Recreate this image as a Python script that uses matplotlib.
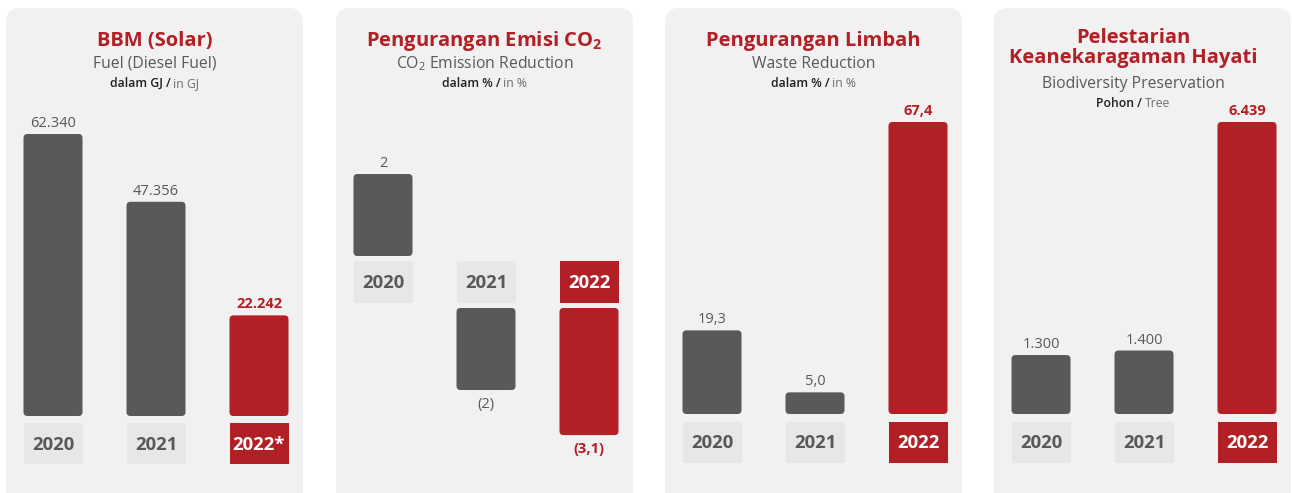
import matplotlib
matplotlib.use('Agg')
import matplotlib.pyplot as plt
from matplotlib.patches import FancyBboxPatch, Rectangle

plt.rcParams['font.family'] = 'Open Sans'
plt.rcParams['mathtext.fontset'] = 'custom'
plt.rcParams['mathtext.rm'] = 'Open Sans'
plt.rcParams['mathtext.bf'] = 'Open Sans:bold'

# data
years = ['2020', '2021', '2022']
fuel_years = ['2020', '2021', '2022*']
fuel_gj = [62340, 47356, 22242]
co2_pct = [2, -2, -3.1]
waste_pct = [19.3, 5.0, 67.4]
trees = [1300, 1400, 6439]

RED = '#b21f24'
GREY = '#58595b'
PANEL = '#f1f1f1'
BOX = '#e6e7e8'
INK = '#231f20'
SOFT = '#6d6e71'

W, H = 1292, 493
fig = plt.figure(figsize=(W / 100, H / 100), dpi=100)
fig.patch.set_facecolor('white')

# pixel-space layer for panels, titles and year boxes
bg = fig.add_axes([0, 0, 1, 1])
bg.set_xlim(0, W)
bg.set_ylim(H, 0)
bg.axis('off')

panel_left = [6, 336, 665, 994]
panel_w = 297
spacing = 103
bar_w = 59

for left in panel_left:
    bg.add_patch(FancyBboxPatch((left, 8), panel_w, 530,
                                boxstyle='round,pad=0,rounding_size=14',
                                fc=PANEL, ec='none'))

renderer = fig.canvas.get_renderer()


def rich_line(xc, y, parts):
    # several differently styled pieces on one centred line
    texts = [bg.text(0, y, s, ha='left', va='baseline', **kw) for s, kw in parts]
    widths = [t.get_window_extent(renderer).width for t in texts]
    x = xc - sum(widths) / 2
    for t, w in zip(texts, widths):
        t.set_x(x)
        x += w


def header(xc, title_lines, title_y, sub, sub_y, unit_bold, unit_soft, unit_y):
    for line, y in zip(title_lines, title_y):
        bg.text(xc, y, line, ha='center', va='baseline', fontsize=14.5,
                fontweight='bold', color=RED)
    bg.text(xc, sub_y, sub, ha='center', va='baseline', fontsize=11.3, color=GREY)
    rich_line(xc, unit_y, [(unit_bold, dict(fontsize=8.8, fontweight='semibold', color=INK)),
                           (unit_soft, dict(fontsize=8.8, color=SOFT))])


def bar_panel(left, values, labels, ylabels, base_px, ppu, box_px, neg_px=None):
    # ppu = pixels per data unit
    c0 = left + 47
    x0 = c0 - spacing / 2
    x1 = c0 + 2.5 * spacing
    ax_top, ax_bot = 90, 492
    ax = fig.add_axes([x0 / W, (H - ax_bot) / H, (x1 - x0) / W, (ax_bot - ax_top) / H])
    ax.set_xlim(-0.5, 2.5)
    ax.set_ylim(-(ax_bot - base_px) / ppu, (base_px - ax_top) / ppu)
    ax.axis('off')
    gap = 0 if neg_px is None else (neg_px - base_px) / ppu
    bottoms = [0 if v >= 0 else -gap for v in values]
    colors = [GREY, GREY, RED]
    bars = ax.bar(range(3), values, width=bar_w / spacing, bottom=bottoms, color=colors)
    for i, (rect, col) in enumerate(zip(bars, colors)):
        x, y, w, h = rect.get_x(), rect.get_y(), rect.get_width(), rect.get_height()
        if h < 0:
            y, h = y + h, -h
        rect.set_visible(False)
        ax.add_patch(FancyBboxPatch((x, y), w, h,
                                    boxstyle='round,pad=0,rounding_size=%f' % (4 / spacing),
                                    mutation_aspect=spacing / ppu, fc=col, ec='none'))
        v = values[i]
        end = bottoms[i] + v
        style = dict(fontsize=10.5, color=GREY)
        if i == 2:
            style = dict(fontsize=10.5, color=RED, fontweight='bold')
        if v >= 0:
            ax.annotate(labels[i], (i, end), xytext=(0, 7), textcoords='offset pixels',
                        ha='center', va='baseline', **style)
        else:
            ax.annotate(labels[i], (i, end), xytext=(0, -7), textcoords='offset pixels',
                        ha='center', va='top', **style)
    # year boxes
    for i, yl in enumerate(ylabels):
        cx = c0 + i * spacing
        fc, tc = (RED, 'white') if i == 2 else (BOX, GREY)
        bg.add_patch(Rectangle((cx - bar_w / 2, box_px[0]), bar_w, box_px[1] - box_px[0],
                               fc=fc, ec='none'))
        bg.text(cx, (box_px[0] + box_px[1]) / 2 + 1, yl, ha='center', va='center',
                fontsize=13.3, fontweight='bold', color=tc)
    return ax


def dotted(v, dec=0):
    s = f'{abs(v):,.{dec}f}'.replace(',', 'X').replace('.', ',').replace('X', '.')
    return f'({s})' if v < 0 else s


# panel 1 - fuel
header(panel_left[0] + 148.5, ['BBM (Solar)'], [46], 'Fuel (Diesel Fuel)', 68,
       'dalam GJ / ', 'in GJ', 87)
bar_panel(panel_left[0], fuel_gj, [dotted(v) for v in fuel_gj], fuel_years,
          416, (416 - 134) / max(fuel_gj), (423, 464))

# panel 2 - CO2
header(panel_left[1] + 148.5, [r'Pengurangan Emisi CO$_\mathbf{2}$'], [46],
       r'CO$_\mathrm{2}$ Emission Reduction', 68, 'dalam % / ', 'in %', 87)
bar_panel(panel_left[1], co2_pct, ['2', '(2)', '(3,1)'], years,
          256, 41, (261, 303), neg_px=308)

# panel 3 - waste
header(panel_left[2] + 148.5, ['Pengurangan Limbah'], [46], 'Waste Reduction', 68,
       'dalam % / ', 'in %', 87)
bar_panel(panel_left[2], waste_pct, [dotted(v, 1) for v in waste_pct], years,
          414, (414 - 122) / max(waste_pct), (422, 463))

# panel 4 - biodiversity
header(1133, ['Pelestarian', 'Keanekaragaman Hayati'], [43, 63],
       'Biodiversity Preservation', 88, 'Pohon / ', 'Tree', 107)
bar_panel(panel_left[3], trees, [dotted(v) for v in trees], years,
          414, (414 - 122) / max(trees), (422, 463))

fig.savefig('out.png', dpi=100, facecolor='white')
